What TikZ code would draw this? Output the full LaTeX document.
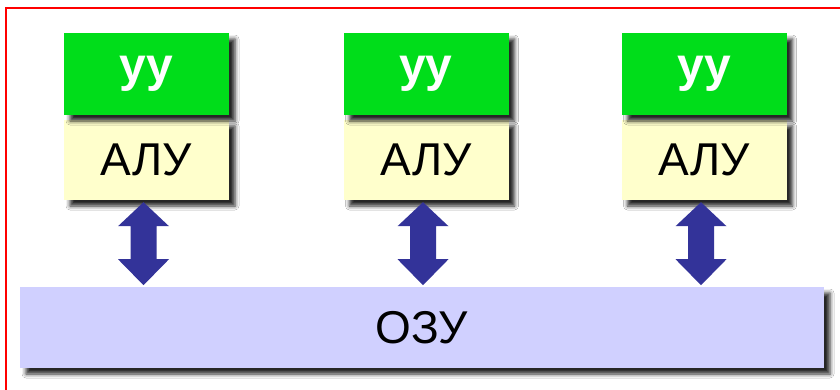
\documentclass[tikz,border=0pt]{standalone}
\usepackage{fontspec}
\setmainfont{Liberation Sans}
\usetikzlibrary{shadows.blur,calc}
\definecolor{uugreen}{RGB}{0,221,26}
\definecolor{aluyellow}{RGB}{255,255,204}
\definecolor{ozublue}{RGB}{208,208,255}
\definecolor{arrblue}{RGB}{51,51,153}
\definecolor{framered}{RGB}{255,0,0}
\tikzset{
  boxshadow/.style={blur shadow={shadow xshift=6pt, shadow yshift=-6pt, shadow blur radius=4pt, shadow opacity=85}},
  uubox/.style={boxshadow, fill=uugreen, minimum width=165pt, minimum height=82pt, inner sep=0pt,
    text=white, font=\fontsize{48}{48}\selectfont\bfseries},
  alubox/.style={boxshadow, fill=aluyellow, minimum width=165pt, minimum height=80pt, inner sep=0pt,
    font=\fontsize{46}{46}\selectfont},
  ozubox/.style={boxshadow, fill=ozublue, minimum width=804pt, minimum height=81pt, inner sep=0pt,
    font=\fontsize{46}{46}\selectfont},
  dblarrow/.style={fill=arrblue}
}
\begin{document}
\begin{tikzpicture}[x=1pt,y=-1pt]
\useasboundingbox (0,0) rectangle (840,389);
\clip (0,0) rectangle (840,389);
\fill[white] (0,0) rectangle (840,389);
\draw[framered, line width=2pt] (6,8) rectangle (860,410);
\node[ozubox] (ozu) at (422,327.5) {ОЗУ};
\foreach \i/\cx in {1/146.5, 2/426, 3/704}{
  \node[alubox] (alu\i) at (\cx,160) {АЛУ};
  \node[uubox] (uu\i) at (\cx,74) {уу};
}
\foreach \i in {1,2,3}{
  \fill[dblarrow] ($(alu\i.south)+(-3,2)$) -- ++(25.5,24) -- ++(-12.5,0) -- ++(0,33) -- ++(12.5,0)
    -- ++(-25.5,26) -- ++(-25.5,-26) -- ++(12.5,0) -- ++(0,-33) -- ++(-12.5,0) -- cycle;
}
\end{tikzpicture}
\end{document}
